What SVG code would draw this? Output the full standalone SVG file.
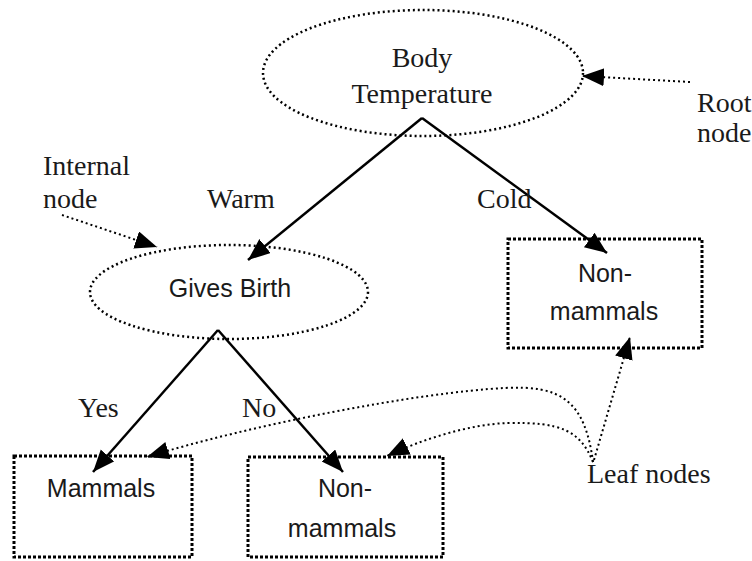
<svg xmlns="http://www.w3.org/2000/svg" width="752" height="561" viewBox="0 0 752 561">
<style>
.serif{font-family:"Liberation Serif","Times New Roman",serif;font-size:28px;fill:#1a1a1a}
.sans{font-family:"Liberation Sans",Arial,sans-serif;font-size:25px;fill:#1a1a1a;text-anchor:middle}
.oval{fill:none;stroke:#000;stroke-width:2.5;stroke-dasharray:2 3}
.box{fill:none;stroke:#000;stroke-width:3;stroke-dasharray:3 2}
.edge{fill:none;stroke:#000;stroke-width:2.5}
.note{fill:none;stroke:#000;stroke-width:2;stroke-dasharray:2 3}
</style>
<defs>
<marker id="ah" markerUnits="userSpaceOnUse" markerWidth="24" markerHeight="20" refX="22" refY="9" orient="auto">
<path d="M0,0 L22,9 L0,18 z" fill="#000"/>
</marker>
</defs>
<rect width="752" height="561" fill="#fff"/>
<g id="root">
<ellipse class="oval" cx="423" cy="73" rx="160" ry="63"/>
<text class="serif" x="422" y="67" text-anchor="middle">Body</text>
<text class="serif" x="422" y="103" text-anchor="middle">Temperature</text>
</g>
<g id="gives-birth">
<ellipse class="oval" cx="229" cy="292" rx="139" ry="47"/>
<text class="sans" x="230" y="297">Gives Birth</text>
</g>
<g id="leaf-right">
<rect class="box" x="508" y="239" width="194" height="109"/>
<text class="sans" x="605" y="282">Non-</text>
<text class="sans" x="604" y="320">mammals</text>
</g>
<g id="leaf-mammals">
<rect class="box" x="14" y="456" width="178" height="101"/>
<text class="sans" x="101" y="497">Mammals</text>
</g>
<g id="leaf-nonmammals">
<rect class="box" x="248" y="457" width="195" height="100"/>
<text class="sans" x="345" y="497">Non-</text>
<text class="sans" x="342" y="537">mammals</text>
</g>
<g id="connectors">
<path class="edge" d="M422,118 L248,260" marker-end="url(#ah)"/>
<path class="edge" d="M422,118 L607,253" marker-end="url(#ah)"/>
<path class="edge" d="M218,330 L93,472" marker-end="url(#ah)"/>
<path class="edge" d="M218,330 L343,472" marker-end="url(#ah)"/>
<path class="note" d="M690,82 L582,76" marker-end="url(#ah)"/>
<path class="note" d="M62,215 L157,247" marker-end="url(#ah)"/>
<path class="note" d="M593,462 C585,400 560,385 505,388 C420,392 250,425 147,457" marker-end="url(#ah)"/>
<path class="note" d="M593,462 C580,430 560,422 508,423 C470,424 420,440 387,456" marker-end="url(#ah)"/>
<path class="note" d="M594,460 L630,337" marker-end="url(#ah)"/>
</g>
<g id="labels">
<text class="serif" x="697" y="112">Root</text>
<text class="serif" x="697" y="142">node</text>
<text class="serif" x="43" y="175">Internal</text>
<text class="serif" x="43" y="208">node</text>
<text class="serif" x="207" y="208">Warm</text>
<text class="serif" x="477" y="208">Cold</text>
<text class="serif" x="78" y="417">Yes</text>
<text class="serif" x="242" y="417">No</text>
<text class="serif" x="587" y="483">Leaf nodes</text>
</g>
</svg>
